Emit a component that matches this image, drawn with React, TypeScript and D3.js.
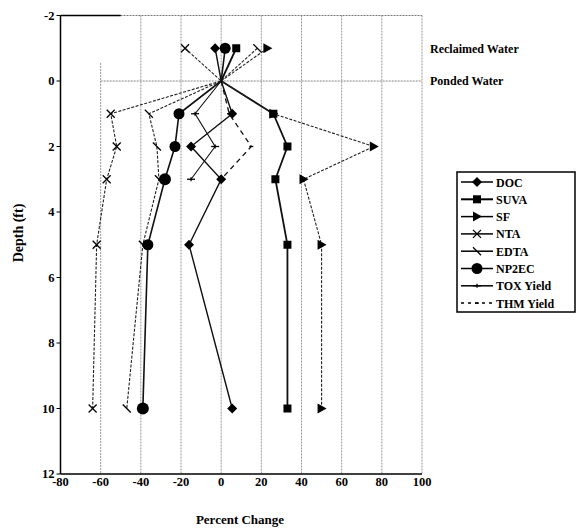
import React from "react";
import * as d3 from "d3";

const depths = [-1, 0, 1, 2, 3, 5, 10];
const yieldDepths = [0, 1, 2, 3];
const docValues = [-3, 0, 5.5, -15, 0, -16, 5.5];
const suvaValues = [7.5, 0, 26, 33, 27, 33, 33];
const sfValues = [23, 0, 26, 76, 41, 50, 50];
const ntaValues = [-18, 0, -55, -52, -57, -62, -64];
const edtaValues = [18, 0, -36, -32, -31, -39, -47];
const np2ecValues = [2, 0, -21, -23, -28, -36.5, -39];
const toxValues = [0, -13, -3, -15];
const thmValues = [0, 4, 15, 0];
const xTicks = [-80, -60, -40, -20, 0, 20, 40, 60, 80, 100];
const yTicks = [-2, 0, 2, 4, 6, 8, 10, 12];

type Series = { name: string; d: number[]; v: number[]; marker: string; width: number; dash?: string; color: string };

const series: Series[] = [
  { name: "DOC", d: depths, v: docValues, marker: "diamond", width: 1.4, color: "#111" },
  { name: "SUVA", d: depths, v: suvaValues, marker: "square", width: 1.8, color: "#111" },
  { name: "SF", d: depths, v: sfValues, marker: "triangle", width: 1.1, dash: "3,1.5", color: "#222" },
  { name: "NTA", d: depths, v: ntaValues, marker: "x", width: 1.1, dash: "3,1.5", color: "#222" },
  { name: "EDTA", d: depths, v: edtaValues, marker: "slash", width: 1.1, dash: "3,1.5", color: "#222" },
  { name: "NP2EC", d: depths, v: np2ecValues, marker: "circle", width: 1.6, color: "#111" },
  { name: "TOX Yield", d: yieldDepths, v: toxValues, marker: "plus", width: 1.1, color: "#111" },
  { name: "THM Yield", d: yieldDepths, v: thmValues, marker: "dash", width: 1.3, dash: "5,4", color: "#111" },
];

const x = d3.scaleLinear().domain([-80, 100]).range([60.5, 422]);
const y = d3.scaleLinear().domain([-2, 12]).range([15.5, 474]);

function Marker({ type, cx, cy, big }: { type: string; cx: number; cy: number; big?: boolean }) {
  const f = "#000";
  switch (type) {
    case "diamond":
      return <path d={`M${cx},${cy - 5}L${cx + 5},${cy}L${cx},${cy + 5}L${cx - 5},${cy}Z`} fill={f} />;
    case "square":
      return <rect x={cx - 4} y={cy - 4} width={8} height={8} fill={f} />;
    case "triangle":
      return <path d={`M${cx - 4},${cy - 5}L${cx + 5},${cy}L${cx - 4},${cy + 5}Z`} fill={f} />;
    case "x":
      return (
        <g stroke={f} strokeWidth={1.3}>
          <line x1={cx - 4} y1={cy - 4} x2={cx + 4} y2={cy + 4} />
          <line x1={cx - 4} y1={cy + 4} x2={cx + 4} y2={cy - 4} />
        </g>
      );
    case "slash":
      return <line x1={cx - 4} y1={cy - 4} x2={cx + 4} y2={cy + 4} stroke={f} strokeWidth={1.3} />;
    case "circle":
      return <circle cx={cx} cy={cy} r={big ? 6 : 5.5} fill={f} />;
    case "plus":
      return (
        <g stroke={f} strokeWidth={1.3}>
          <line x1={cx - 4} y1={cy} x2={cx + 4} y2={cy} />
          <line x1={cx} y1={cy - 2} x2={cx} y2={cy + 2} />
        </g>
      );
    case "dash":
      return <line x1={cx - 2} y1={cy} x2={cx + 2} y2={cy} stroke={f} strokeWidth={1.3} />;
  }
  return null;
}

export default function App() {
  const font = "'Liberation Serif', 'DejaVu Serif', serif";
  const line = d3
    .line<[number, number]>()
    .x((p) => x(p[0]))
    .y((p) => y(p[1]));
  return (
    <svg width={582} height={529} style={{ display: "block", margin: 0, position: "absolute", left: 0, top: 0 }} fontFamily={font}>
      <rect width={582} height={529} fill="#fff" />
      {/* grid */}
      {xTicks.slice(1).map((t) => (
        <line
          key={t}
          x1={x(t)}
          x2={x(t)}
          y1={t === -60 ? y(-0.55) : y(-2)}
          y2={y(12)}
          stroke="#999"
          strokeWidth={1}
          strokeDasharray="2,1"
        />
      ))}
      <line x1={x(-60)} x2={x(100)} y1={y(0)} y2={y(0)} stroke="#888" strokeDasharray="2,1" />
      <line x1={x(-80)} x2={x(100)} y1={y(-2)} y2={y(-2)} stroke="#777" strokeDasharray="2,1" />
      <line x1={x(-80)} x2={x(-50)} y1={y(-2)} y2={y(-2)} stroke="#000" strokeWidth={1.5} />
      {/* axes */}
      <line x1={x(-80)} x2={x(-80)} y1={y(-2)} y2={y(12)} stroke="#000" strokeWidth={1.5} />
      <line x1={x(-80)} x2={x(100)} y1={y(12)} y2={y(12)} stroke="#000" strokeWidth={1.3} />
      {yTicks.map((t) => (
        <g key={t}>
          <line x1={x(-80) - 4} x2={x(-80)} y1={y(t)} y2={y(t)} stroke="#000" />
          <text x={x(-80) - 6} y={y(t) + 4} textAnchor="end" fontSize={12.5} fontWeight="bold">
            {t}
          </text>
        </g>
      ))}
      {xTicks.map((t) => (
        <text key={t} x={x(t)} y={486} textAnchor="middle" fontSize={12.5} fontWeight="bold">
          {t}
        </text>
      ))}
      <text x={240} y={524} textAnchor="middle" fontSize={13} fontWeight="bold">
        Percent Change
      </text>
      <text transform="translate(23,233) rotate(-90)" textAnchor="middle" fontSize={14} fontWeight="bold">
        Depth (ft)
      </text>
      <text x={430} y={53} fontSize={12} fontWeight="bold">
        Reclaimed Water
      </text>
      <text x={430} y={85} fontSize={12} fontWeight="bold">
        Ponded Water
      </text>
      {/* series */}
      {series.map((s) => (
        <g key={s.name}>
          <path
            d={line(s.v.map((v, i) => [v, s.d[i]] as [number, number])) || ""}
            fill="none"
            stroke={s.color}
            strokeWidth={s.width}
            strokeDasharray={s.dash}
          />
          {s.v.map((v, i) =>
            s.d[i] === 0 ? null : (
              <Marker key={i} type={s.marker} cx={x(v)} cy={y(s.d[i])} big={s.d[i] === 3 || s.d[i] === 10} />
            )
          )}
        </g>
      ))}
      {/* legend */}
      <rect x={457} y={172} width={118} height={140} fill="#fff" stroke="#000" strokeWidth={1.5} />
      {series.map((s, i) => {
        const ly = 182 + i * 17.3;
        return (
          <g key={s.name}>
            <line x1={461} x2={493} y1={ly} y2={ly} stroke="#000" strokeWidth={s.marker === "square" ? 2 : 1.5} strokeDasharray={s.marker === "dash" ? "3,4" : undefined} />
            <Marker type={s.marker} cx={477} cy={ly} />
            <text x={496} y={ly + 4.5} fontSize={12} fontWeight="bold">
              {s.name}
            </text>
          </g>
        );
      })}
    </svg>
  );
}
